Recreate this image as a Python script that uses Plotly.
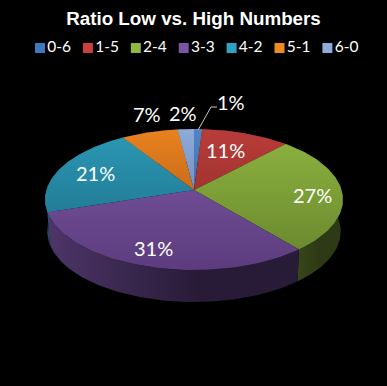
import numpy as np
import plotly.graph_objects as go

categories = ["0-6", "1-5", "2-4", "3-3", "4-2", "5-1", "6-0"]
shares = [1, 11, 27, 31, 21, 7, 2]
top_light = ["#4f86c6", "#b83c39", "#8ab03e", "#6f4c94", "#2b96b2", "#e98220", "#8fabd8"]
top_dark = ["#3f70ab", "#a33330", "#6c8a2f", "#5c3c7e", "#227d98", "#c96d18", "#7391c2"]
side_left = ["#27466e", "#6e2422", "#3d4d1c", "#4d3569", "#18566a", "#8a4a10", "#4d6285"]
side_right = ["#1c3350", "#4e1816", "#2d3a15", "#281b37", "#0f3d4c", "#63350b", "#38475f"]
legend_colors = ["#3f78bd", "#c8403c", "#92b840", "#7a55a5", "#2ea3c2", "#f08a25", "#8fabd8"]
label_texts = ["1%", "11%", "27%", "31%", "21%", "7%", "2%"]

# pie geometry, in page pixels
CX, CY = 194, 190
K, A, B = 0.135, 69.2, 147.6
DEPTH = 32
# text anchor of each percentage label
label_x = [231, 225, 312, 153, 95, 147, 183]
label_y = [102, 150, 195, 248, 173, 114, 113]


def project(frac, r=1.0):
    ang = 2 * np.pi * np.asarray(frac)
    u, v = r * np.sin(ang), r * np.cos(ang)
    d = 1 + K * v
    return CX + B * u / d, CY - A * v / d


fig = go.Figure()
edges = np.cumsum([0] + shares) / sum(shares)
arcs = [np.linspace(edges[i], edges[i + 1], 80) for i in range(len(shares))]

# side wall first, so the top faces cover the hidden part
for i, t in enumerate(arcs):
    x, y = project(t)
    xb = CX + (x - CX) * 0.985
    yb = y + DEPTH
    fig.add_trace(go.Scatter(
        x=np.r_[x, xb[::-1]], y=np.r_[y, yb[::-1]], mode="lines", fill="toself",
        line=dict(width=0), hoverinfo="skip", showlegend=False,
        fillgradient=dict(type="horizontal", colorscale=[[0, side_left[i]], [0.6, side_right[i]], [1, side_right[i]]]),
    ))

for i, t in enumerate(arcs):
    x, y = project(t)
    fig.add_trace(go.Scatter(
        x=np.r_[CX, x, CX], y=np.r_[CY, y, CY], mode="lines", fill="toself",
        name=categories[i], line=dict(width=0), showlegend=False,
        fillgradient=dict(type="vertical", colorscale=[[0, top_dark[i]], [1, top_light[i]]]),
    ))

# leader line of the smallest slice
lx, ly = project([edges[0] + (edges[1] - edges[0]) / 2])
fig.add_trace(go.Scatter(
    x=[lx[0], 211, 217], y=[ly[0] + 1, 107, 107], mode="lines",
    line=dict(color="#c8c8c8", width=1), hoverinfo="skip", showlegend=False,
))

# legend row
for i, name in enumerate(categories):
    fig.add_trace(go.Scatter(
        x=[40 + 47.9 * i], y=[48], mode="markers+text", text=[name], textposition="middle right",
        textfont=dict(family="Lato, Open Sans, sans-serif", size=15.5, color="#ffffff"),
        marker=dict(symbol="square", size=10, color=legend_colors[i], line=dict(width=0)),
        hoverinfo="skip", showlegend=False,
    ))

annotations = [
    dict(x=lx_, y=ly_, text=txt, showarrow=False, xref="x", yref="y",
         font=dict(family="Lato, Open Sans, sans-serif", size=20, color="#ffffff"))
    for lx_, ly_, txt in zip(label_x, label_y, label_texts)
]

fig.update_layout(
    width=387, height=386, margin=dict(l=0, r=0, t=0, b=0),
    paper_bgcolor="#000000", plot_bgcolor="#000000", showlegend=False,
    xaxis=dict(range=[0, 387], visible=False, fixedrange=True),
    yaxis=dict(range=[386, 0], visible=False, fixedrange=True),
    title=dict(text="<b>Ratio Low vs. High Numbers</b>", x=0.5, xanchor="center", y=0.953, yanchor="middle",
               font=dict(family="Liberation Sans, Arial, sans-serif", size=18.8, color="#ffffff")),
    annotations=annotations,
)
fig.write_html(
    "out.html", config={"displayModeBar": False},
    post_script="document.body.style.margin='0';document.body.style.background='#000';document.body.style.overflow='hidden';",
)
